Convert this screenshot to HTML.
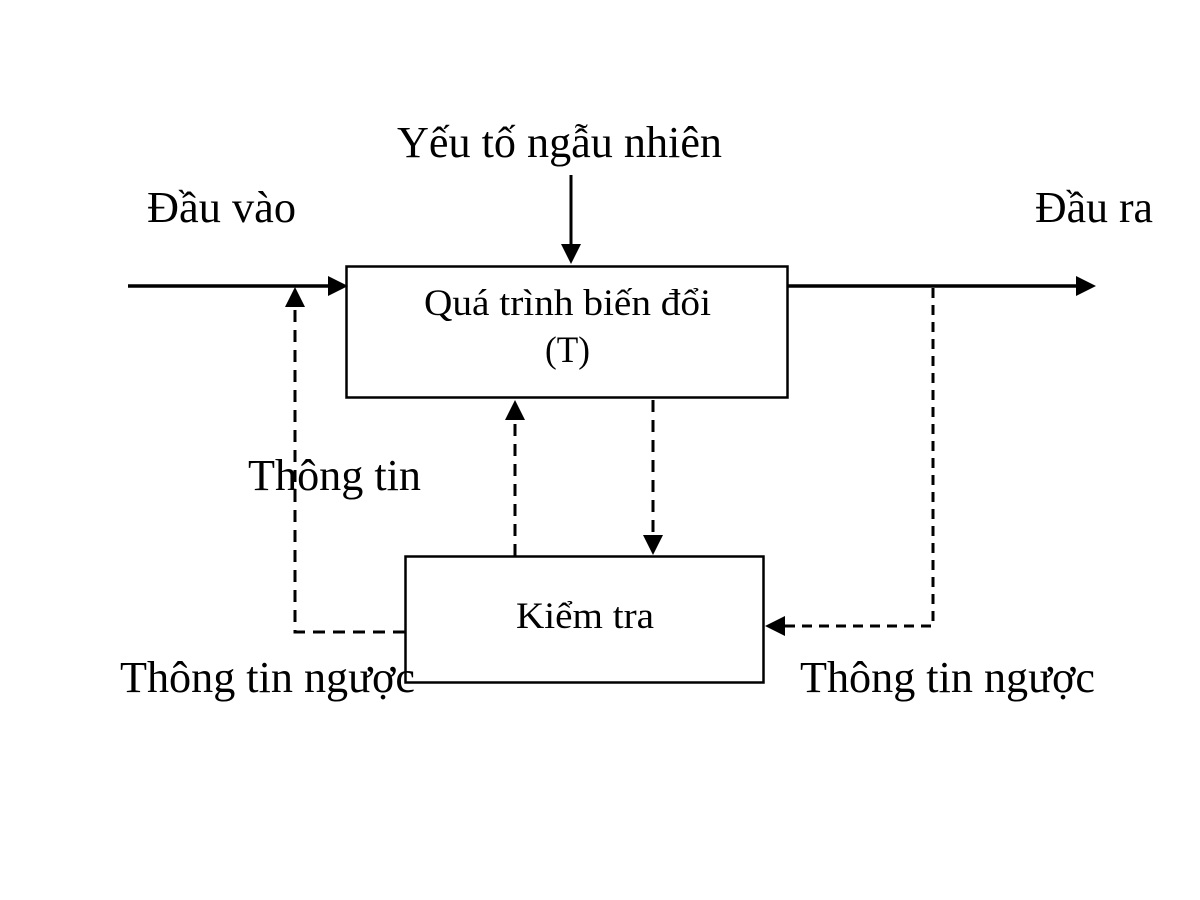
<!DOCTYPE html>
<html><head><meta charset="utf-8"><style>html,body{margin:0;padding:0;background:#fff}svg{display:block}</style></head>
<body>
<svg width="1200" height="900" viewBox="0 0 1200 900" xmlns="http://www.w3.org/2000/svg" font-family="Liberation Serif, serif" fill="#000">
<rect width="1200" height="900" fill="#fff"/>
<g stroke="#000" fill="none">
<rect x="346.5" y="266.5" width="441" height="131" stroke-width="2.5"/>
<rect x="405.5" y="556.5" width="358" height="126" stroke-width="2.5"/>
<line x1="128" y1="286" x2="330" y2="286" stroke-width="3.5"/>
<line x1="788" y1="286" x2="1078" y2="286" stroke-width="3.5"/>
<line x1="571" y1="175" x2="571" y2="248" stroke-width="3"/>
<g stroke-width="3" stroke-dasharray="12,8">
<polyline points="405,632 295,632 295,304"/>
<line x1="515" y1="556" x2="515" y2="418"/>
<line x1="653" y1="400" x2="653" y2="538"/>
</g>
<polyline points="933,288 933,626 782,626" stroke-width="3" stroke-dasharray="10,7"/>
</g>
<polygon points="348,286 328,276 328,296"/>
<polygon points="1096,286 1076,276 1076,296"/>
<polygon points="571,264 561,244 581,244"/>
<polygon points="295,287 285,307 305,307"/>
<polygon points="515,400 505,420 525,420"/>
<polygon points="653,555 643,535 663,535"/>
<polygon points="765,626 785,616 785,636"/>
<g font-size="44">
<text x="397" y="157" textLength="325" lengthAdjust="spacingAndGlyphs">Yếu tố ngẫu nhiên</text>
<text x="147" y="222" textLength="149" lengthAdjust="spacingAndGlyphs">Đầu vào</text>
<text x="1035" y="222" textLength="118" lengthAdjust="spacingAndGlyphs">Đầu ra</text>
<text x="248" y="490" textLength="173" lengthAdjust="spacingAndGlyphs">Thông tin</text>
<text x="120" y="692" textLength="295" lengthAdjust="spacingAndGlyphs">Thông tin ngược</text>
<text x="800" y="692" textLength="295" lengthAdjust="spacingAndGlyphs">Thông tin ngược</text>
</g>
<g font-size="37">
<text x="424" y="315" textLength="287" lengthAdjust="spacingAndGlyphs">Quá trình biến đổi</text>
<text x="545" y="362" textLength="45" lengthAdjust="spacingAndGlyphs">(T)</text>
<text x="516" y="628" textLength="138" lengthAdjust="spacingAndGlyphs">Kiểm tra</text>
</g>
</svg>
</body></html>
